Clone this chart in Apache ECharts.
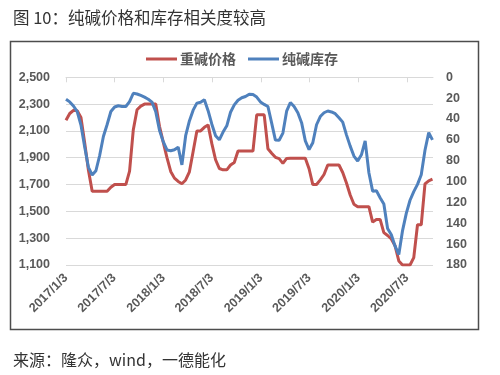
<!DOCTYPE html>
<html>
<head>
<meta charset="utf-8">
<script src="https://cdn.jsdelivr.net/npm/echarts@6/dist/echarts.min.js"></script>
<style>
html,body{margin:0;padding:0;background:#fff;}
#chart{width:500px;height:375px;}
</style>
</head>
<body>
<div id="chart"></div>
<script>
const titleText = '图 10：纯碱价格和库存相关度较高';
const sourceText = '来源：隆众，wind，一德能化';
const seriesNames = ['重碱价格', '纯碱库存'];
const startDate = '2017/1/3';
const stepDays = 14;
const xTickLabels = ['2017/1/3', '2017/7/3', '2018/1/3', '2018/7/3', '2019/1/3', '2019/7/3', '2020/1/3', '2020/7/3'];
const priceValues = [
  2180, 2230, 2254, 2251, 2200, 2010, 1807, 1650, 1650, 1650,
  1650, 1650, 1680, 1700, 1700, 1700, 1700, 1800, 2109, 2258,
  2285, 2300, 2300, 2300, 2300, 2134, 2016, 1901, 1798, 1748,
  1723, 1706, 1734, 1795, 1946, 2100, 2100, 2127, 2145, 2005,
  1885, 1820, 1810, 1810, 1846, 1865, 1950, 1950, 1950, 1950,
  1950, 2220, 2220, 2220, 1967, 1933, 1903, 1893, 1858, 1895,
  1896, 1896, 1896, 1896, 1896, 1818, 1700, 1700, 1735, 1775,
  1846, 1846, 1846, 1846, 1790, 1712, 1622, 1553, 1535, 1535,
  1535, 1535, 1420, 1440, 1440, 1342, 1320, 1294, 1243, 1130,
  1100, 1100, 1100, 1155, 1400, 1400, 1705, 1728, 1740
];
const stockValues = [
  21, 23.6, 27.5, 32.9, 45.8, 66.9, 86.3, 93.7, 89.6, 75,
  56.7, 45.3, 32.8, 28.5, 27.3, 28, 28, 23.4, 15.3, 16,
  17.4, 19, 21, 23.8, 33, 50.7, 61.7, 69.7, 70.5, 69.5,
  67, 84, 56, 41.9, 31.5, 24.8, 24, 21.6, 32, 45,
  56, 60, 52.5, 46.5, 33.5, 26.5, 22, 19.6, 18.4, 16.2,
  16.6, 19, 23.6, 26, 28, 44, 60.2, 60.4, 53.5, 32.5,
  24.2, 28, 34, 43.5, 61, 69.3, 62.7, 45.5, 37.6, 34,
  32.3, 33.2, 34.9, 38.8, 43, 55.2, 66, 75.5, 80.3, 74.3,
  61, 91.5, 109.2, 108.7, 115.5, 121.5, 145, 151, 162, 170,
  147, 130.5, 117.9, 109.6, 102.7, 93.4, 70, 53, 60
];

const DAY = 86400000;
function parseDate(s) { const p = s.split('/').map(Number); return Date.UTC(p[0], p[1] - 1, p[2]); }
function fmtDate(v) { const d = new Date(v); return d.getUTCFullYear() + '/' + (d.getUTCMonth() + 1) + '/' + d.getUTCDate(); }
const t0 = parseDate(startDate);
// x positions are day offsets from the start date
const dayOffsets = priceValues.map((_, i) => i * stepDays);
const tickDays = xTickLabels.map(s => Math.round((parseDate(s) - t0) / DAY));

const chart = echarts.init(document.getElementById('chart'), null, { renderer: 'canvas' });
const labelColor = '#595959';
chart.setOption({
  animation: false,
  backgroundColor: '#fff',
  title: [
    { text: titleText, left: 8, top: 4, textStyle: { fontSize: 16.5, fontWeight: 'normal', color: '#333', fontFamily: 'Noto Sans CJK SC' } },
    { text: sourceText, left: 8, top: 347, textStyle: { fontSize: 16, fontWeight: 'normal', color: '#333', fontFamily: 'Noto Sans CJK SC' } }
  ],
  graphic: [
    { type: 'rect', shape: { x: 10.5, y: 41.5, width: 468, height: 288 }, style: { fill: 'none', stroke: '#4d4d4d', lineWidth: 1.5 }, silent: true }
  ],
  legend: {
    top: 47, left: 141,
    icon: 'rect', itemWidth: 31, itemHeight: 3, itemGap: 12,
    textStyle: { fontSize: 14, fontWeight: 'bold', color: labelColor, fontFamily: 'Noto Sans CJK SC', padding: [0, 0, 0, -2] },
    data: seriesNames
  },
  grid: { left: 66, right: 67, top: 77.3, bottom: 110, containLabel: false },
  xAxis: {
    type: 'value',
    min: 0,
    max: 1374,
    splitLine: { show: false },
    axisLine: { lineStyle: { color: '#d9d9d9', width: 1 } },
    axisTick: { show: true, length: 5, lineStyle: { color: '#d9d9d9' }, customValues: tickDays },
    axisLabel: {
      customValues: tickDays,
      formatter: v => fmtDate(t0 + v * DAY),
      rotate: 45, margin: 11,
      fontSize: 12.5, fontWeight: 'bold', color: labelColor, fontFamily: 'Liberation Sans'
    }
  },
  yAxis: [
    {
      type: 'value', min: 1100, max: 2500, interval: 200,
      axisLine: { show: false }, axisTick: { show: false },
      splitLine: { lineStyle: { color: '#d9d9d9', width: 1 } },
      axisLabel: {
        margin: 16, fontSize: 12.5, fontWeight: 'bold', color: labelColor, fontFamily: 'Liberation Sans',
        formatter: v => v.toLocaleString('en-US')
      }
    },
    {
      type: 'value', min: 0, max: 180, interval: 20, inverse: true, position: 'right',
      axisLine: { show: false }, axisTick: { show: false }, splitLine: { show: false },
      axisLabel: { margin: 13, fontSize: 12.5, fontWeight: 'bold', color: labelColor, fontFamily: 'Liberation Sans' }
    }
  ],
  series: [
    {
      name: seriesNames[0], type: 'line', yAxisIndex: 0, showSymbol: false, symbol: 'none',
      lineStyle: { color: '#C0504D', width: 3 }, itemStyle: { color: '#C0504D' },
      data: dayOffsets.map((d, i) => [d, priceValues[i]])
    },
    {
      name: seriesNames[1], type: 'line', yAxisIndex: 1, showSymbol: false, symbol: 'none',
      lineStyle: { color: '#4F81BD', width: 3 }, itemStyle: { color: '#4F81BD' },
      data: dayOffsets.map((d, i) => [d, stockValues[i]])
    }
  ]
});
</script>
</body>
</html>
